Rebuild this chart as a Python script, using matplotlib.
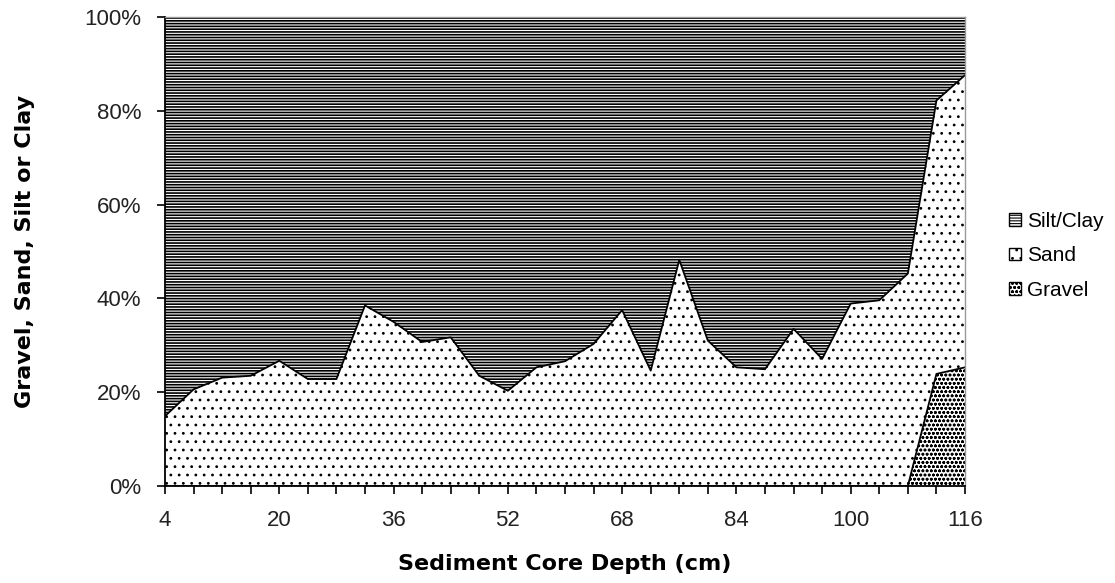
import matplotlib.pyplot as plt
from matplotlib.patches import Patch

# sediment core, % by weight at each depth
depth = list(range(4, 117, 4))
gravel = [0, 0, 0, 0, 0, 0, 0, 0, 0, 0, 0, 0, 0, 0, 0,
          0, 0, 0, 0, 0, 0, 0, 0, 0, 0, 0, 0, 23.9, 25.3]
sand = [14.9, 20.6, 23.1, 23.5, 26.7, 22.8, 22.8, 38.5, 35.0, 30.7,
        31.7, 23.5, 20.3, 25.3, 26.6, 30.3, 37.5, 24.6, 48.2, 31.0,
        25.3, 24.9, 33.5, 27.1, 38.9, 39.6, 45.3, 58.3, 62.3]
silt_clay = [85.1, 79.4, 76.9, 76.5, 73.3, 77.2, 77.2, 61.5, 65.0, 69.3,
             68.3, 76.5, 79.7, 74.7, 73.4, 69.7, 62.5, 75.4, 51.8, 69.0,
             74.7, 75.1, 66.5, 72.9, 61.1, 60.4, 54.7, 17.8, 12.4]

x_labels = ['4', '20', '36', '52', '68', '84', '100', '116']
y_ticks = [0, 20, 40, 60, 80, 100]
y_labels = ['0%', '20%', '40%', '60%', '80%', '100%']

# 100% stacking
tot = [g + s + c for g, s, c in zip(gravel, sand, silt_clay)]
g_top = [100 * g / t for g, t in zip(gravel, tot)]
s_top = [100 * (g + s) / t for g, s, t in zip(gravel, sand, tot)]
c_top = [100.0 for t in tot]

fig = plt.figure(figsize=(11.15, 5.83), dpi=100)
ax = fig.add_axes([165 / 1115, 1 - 486 / 583, 800 / 1115, 469 / 583])

plt.rcParams['hatch.linewidth'] = 1.2
ax.fill_between(depth, s_top, c_top, facecolor='white', edgecolor='black',
                hatch='------', linewidth=0)
plt.rcParams['hatch.linewidth'] = 0.8
ax.fill_between(depth, g_top, s_top, facecolor='white', edgecolor='black',
                hatch='..', linewidth=0)
ax.fill_between(depth, 0, g_top, facecolor='white', edgecolor='black',
                hatch='oooo', linewidth=0)
ax.plot(depth, s_top, color='black', lw=1.3)
ax.plot(depth, g_top, color='black', lw=1.3)

ax.set_xlim(4, 116)
ax.set_ylim(0, 100)

ax.set_xticks(depth)
ax.set_xticklabels([str(d) if str(d) in x_labels else '' for d in depth])
ax.set_yticks(y_ticks)
ax.set_yticklabels(y_labels)
ax.tick_params(direction='out', length=6, width=1.2, color='black',
               labelsize=16, labelcolor='#222222')
ax.tick_params(axis='y', pad=11)
ax.tick_params(axis='x', pad=11)
for lab in ax.get_xticklabels() + ax.get_yticklabels():
    lab.set_family('Liberation Sans')

for sp in ['top', 'right']:
    ax.spines[sp].set_color('#999999')
    ax.spines[sp].set_linewidth(1)
for sp in ['left', 'bottom']:
    ax.spines[sp].set_linewidth(1.3)

ax.set_xlabel('Sediment Core Depth (cm)', fontsize=16, fontweight='bold',
              family='DejaVu Sans', labelpad=17)
ax.set_ylabel('Gravel, Sand, Silt or Clay', fontsize=16, fontweight='bold',
              family='DejaVu Sans')
ax.yaxis.set_label_coords(-0.163, 0.5)

handles = [Patch(facecolor='white', edgecolor='black', hatch='------', label='Silt/Clay'),
           Patch(facecolor='white', edgecolor='black', hatch='..', label='Sand'),
           Patch(facecolor='white', edgecolor='black', hatch='oooo', label='Gravel')]
leg = fig.legend(handles=handles, loc='center left', bbox_to_anchor=(0.905, 0.561),
                 frameon=False, handlelength=0.55, handleheight=0.55,
                 handletextpad=0.3, labelspacing=0.75, borderpad=0,
                 borderaxespad=0, prop={'family': 'Liberation Sans', 'size': 15})

fig.savefig('out.png', dpi=100)
